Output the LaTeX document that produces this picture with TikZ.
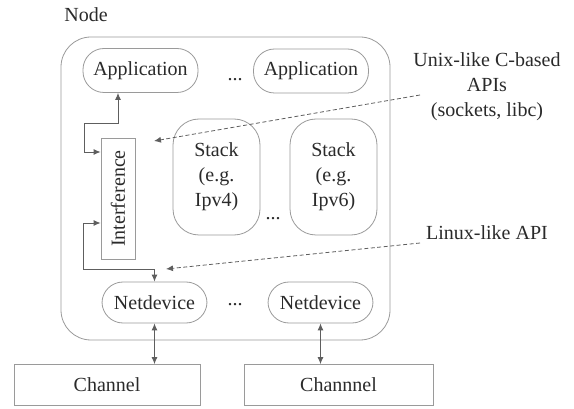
\documentclass[tikz,border=0pt]{standalone}
\usepackage{fontspec}
\setmainfont{LiberationSerif}[Extension=.ttf, UprightFont=*-Regular, BoldFont=*-Bold]
\usepackage{tikz}
\usetikzlibrary{arrows.meta, positioning, calc}

\definecolor{boxgray}{HTML}{9A9A9A}
\definecolor{arrgray}{HTML}{5E5E5E}
\definecolor{txtgray}{HTML}{2A2A2A}

\begin{document}
\begin{tikzpicture}[x=1pt, y=-1pt,
					font=\rmfamily\fontsize{20}{25}\selectfont, text=txtgray,
					pill/.style={draw=boxgray, line width=0.8pt, rounded corners=21pt,
						minimum width=115, minimum height=44, inner sep=0pt},
					stackbox/.style={draw=boxgray, line width=0.8pt, rounded corners=26pt,
						minimum width=87, minimum height=116, align=center, inner sep=0pt},
					chanbox/.style={draw=boxgray, line width=0.8pt, minimum height=41, inner sep=0pt},
					dbl/.style={{Latex[length=7pt,width=6pt]}-{Latex[length=7pt,width=6pt]},
						draw=arrgray, line width=0.9pt},
					apiarr/.style={-{Latex[length=7pt,width=6pt]}, draw=arrgray,
						line width=0.8pt, dash pattern=on 4pt off 2.5pt}]

\useasboundingbox (0,0) rectangle (574,409);

\node (outer) [draw=boxgray, line width=0.8pt, rounded corners=30pt,
	minimum width=329, minimum height=303, inner sep=0pt] at (225.5,188.5) {};
\node (nodelbl) at (86,15) {Node};

\node (app1) [pill] at (140.5,70.5) {Application};
\node (app2) [pill] at (311,71) {Application};
\node (dots1) at (235,80) {...};

\node (intf) [draw=boxgray, line width=0.8pt, minimum width=34, minimum height=121,
	inner sep=0pt] at (118,198.5) {\rotatebox{90}{Interference}};

\node (stack1) [stackbox] at (216.5,177) {Stack\\(e.g.\\Ipv4)};
\node (stack2) [stackbox] at (333.5,177) {Stack\\(e.g.\\Ipv6)};
\node (dots2) at (273,219) {...};

\node (nd1) [pill, minimum width=105, minimum height=41] at (154.5,302.5) {Netdevice};
\node (nd2) [pill, minimum width=105, minimum height=41] at (320.5,302.5) {Netdevice};
\node (dots3) at (235,305) {...};

\node (ch1) [chanbox, minimum width=186] at (107,385) {Channel};
\node (ch2) [chanbox, minimum width=189] at (338.5,385) {Channnel};

\node (unix) [align=center] at (487,87) {Unix-like C-based\\APIs\\(sockets, libc)};
\node (linux) at (487,233) {Linux-like API};

\coordinate (unixfrom) at (420,95);
\coordinate (unixto) at (154,141);
\coordinate (linuxfrom) at (420,243);
\coordinate (linuxto) at (166,269);

\draw[dbl] ([yshift=46.5pt]intf.west) -| (84,123) -| ([xshift=-22.5pt]app1.south);
\draw[dbl] ([yshift=-24.5pt]intf.west) -| (83,269) -| (nd1.north);
\draw[dbl] (nd1.south) -- (nd1.south |- ch1.north);
\draw[dbl] (nd2.south) -- (nd2.south |- ch2.north);

\draw[apiarr] (unixfrom) -- (unixto);
\draw[apiarr] (linuxfrom) -- (linuxto);
\end{tikzpicture}
\end{document}
